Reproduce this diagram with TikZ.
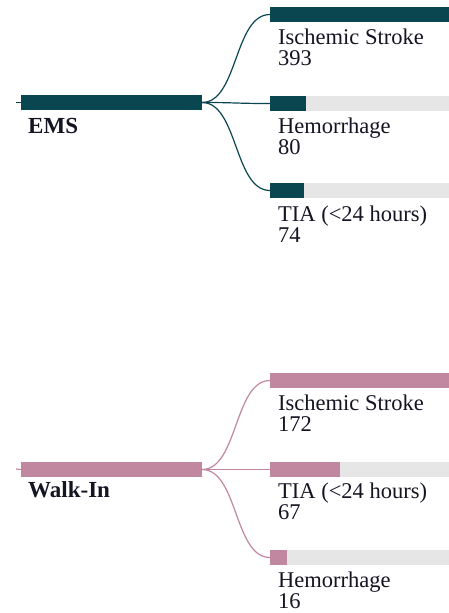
\documentclass[tikz,border=0pt]{standalone}
\usepackage{fontspec}
\setmainfont{Liberation Serif}
\definecolor{emscol}{RGB}{9,70,80}
\definecolor{walkcol}{RGB}{193,135,160}
\definecolor{bggray}{RGB}{230,230,230}
\definecolor{txtcol}{RGB}{20,20,35}
\tikzset{
  pbar/.style={rectangle, inner sep=0pt, outer sep=0pt, anchor=north west, minimum width=181pt, minimum height=15pt},
  cbar/.style={rectangle, fill=bggray, inner sep=0pt, outer sep=0pt, anchor=north west, minimum width=179pt, minimum height=15pt},
  lbl/.style={anchor=base west, inner sep=0pt, text=txtcol, font=\fontsize{22.5}{22}\selectfont},
  plbl/.style={anchor=base west, inner sep=0pt, text=txtcol, font=\fontsize{23}{22}\selectfont\bfseries},
  conn/.style={line width=1.2pt},
}
\begin{document}
\begin{tikzpicture}[x=1pt,y=-1pt]
\useasboundingbox[fill=white] (0,0) rectangle (449,613);
% ---------------- EMS ----------------
\coordinate (emsstub) at (16,102.5);
\node[pbar, fill=emscol] (ems) at (21,95) {};
\draw[conn, emscol] (emsstub) -- (ems.west);
\node[plbl] (emsl) at (28,133) {EMS};
\node[cbar] (e1) at (270,7) {};
\node[cbar] (e2) at (270,96) {};
\node[cbar] (e3) at (270,183) {};
\fill[emscol] (e1.north west) rectangle ++(179,15);
\fill[emscol] (e2.north west) rectangle ++(36.4,15);
\fill[emscol] (e3.north west) rectangle ++(33.7,15);
\draw[conn, emscol] (ems.east) .. controls +(36,0) and +(-36,0) .. (e1.west);
\draw[conn, emscol] (ems.east) .. controls +(36,0) and +(-36,0) .. (e2.west);
\draw[conn, emscol] (ems.east) .. controls +(36,0) and +(-36,0) .. (e3.west);
\node[lbl] (e1a) at (278,44) {Ischemic Stroke};
\node[lbl] (e1b) at (278,65.5) {393};
\node[lbl] (e2a) at (278,133) {Hemorrhage};
\node[lbl] (e2b) at (278,154.5) {80};
\node[lbl] (e3a) at (278,221) {TIA (<24 hours)};
\node[lbl] (e3b) at (278,242.5) {74};
% ---------------- Walk-In ----------------
\coordinate (wstub) at (16,469);
\node[pbar, fill=walkcol] (wi) at (21,462) {};
\draw[conn, walkcol] (wstub) -- (wi.west);
\node[plbl] (wil) at (28,497) {Walk-In};
\node[cbar] (w1) at (270,373) {};
\node[cbar] (w2) at (270,462) {};
\node[cbar] (w3) at (270,550) {};
\fill[walkcol] (w1.north west) rectangle ++(179,15);
\fill[walkcol] (w2.north west) rectangle ++(69.7,15);
\fill[walkcol] (w3.north west) rectangle ++(16.6,15);
\draw[conn, walkcol] (wi.east) .. controls +(36,0) and +(-36,0) .. (w1.west);
\draw[conn, walkcol] (wi.east) .. controls +(36,0) and +(-36,0) .. (w2.west);
\draw[conn, walkcol] (wi.east) .. controls +(36,0) and +(-36,0) .. (w3.west);
\node[lbl] (w1a) at (278,410) {Ischemic Stroke};
\node[lbl] (w1b) at (278,431.5) {172};
\node[lbl] (w2a) at (278,498) {TIA (<24 hours)};
\node[lbl] (w2b) at (278,519.5) {67};
\node[lbl] (w3a) at (278,587) {Hemorrhage};
\node[lbl] (w3b) at (278,608.5) {16};
\end{tikzpicture}
\end{document}
